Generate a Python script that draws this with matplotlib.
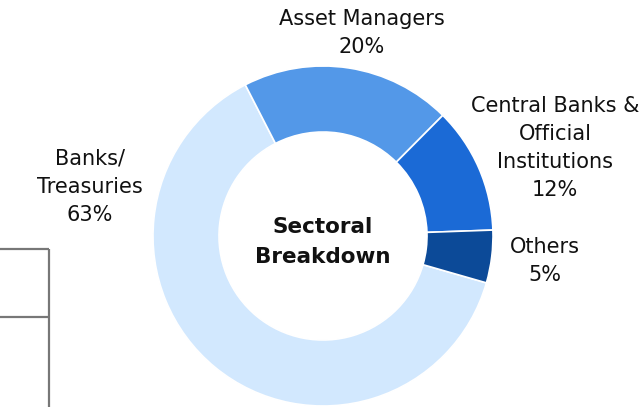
import matplotlib
matplotlib.use("Agg")
import matplotlib.pyplot as plt

# sector shares (%)
sectors = ["Banks/\nTreasuries", "Asset Managers", "Central Banks &\nOfficial\nInstitutions", "Others"]
shares = [63, 20, 12, 5]
colors = ["#D2E8FE", "#5398E8", "#1B6AD6", "#0C4A98"]

W, H = 643, 407
fig = plt.figure(figsize=(W / 100, H / 100), dpi=100)
ax = fig.add_axes([0, 0, 1, 1])

cx, cy = 323, H - 236
R = 170
ax.pie(shares, colors=colors, startangle=-16, counterclock=False,
       center=(cx, cy), radius=R, frame=True,
       wedgeprops=dict(width=R - 104, edgecolor="white", linewidth=1.2))
ax.set_xlim(0, W)
ax.set_ylim(0, H)
ax.set_aspect("equal")
ax.axis("off")

# label positions (pixel centres)
label_xy = [(90, H - 187), (362, H - 33), (555, H - 148), (545, H - 261)]
for name, pct, (lx, ly) in zip(sectors, shares, label_xy):
    ax.text(lx, ly, f"{name}\n{pct}%", ha="center", va="center",
            fontsize=15, color="#111111", linespacing=1.52)

ax.text(cx, H - 242, "Sectoral\nBreakdown", ha="center", va="center",
        fontsize=15.5, fontweight="bold", color="#111111", linespacing=1.6)

# partial frame at left edge
gray = "#777777"
ax.plot([0, 48.5], [H - 249, H - 249], color=gray, lw=1.6, solid_capstyle="butt")
ax.plot([0, 48.5], [H - 317, H - 317], color=gray, lw=1.6, solid_capstyle="butt")
ax.plot([48.5, 48.5], [H - 249, 0], color=gray, lw=1.6, solid_capstyle="butt")

fig.savefig("out.png", dpi=100)
